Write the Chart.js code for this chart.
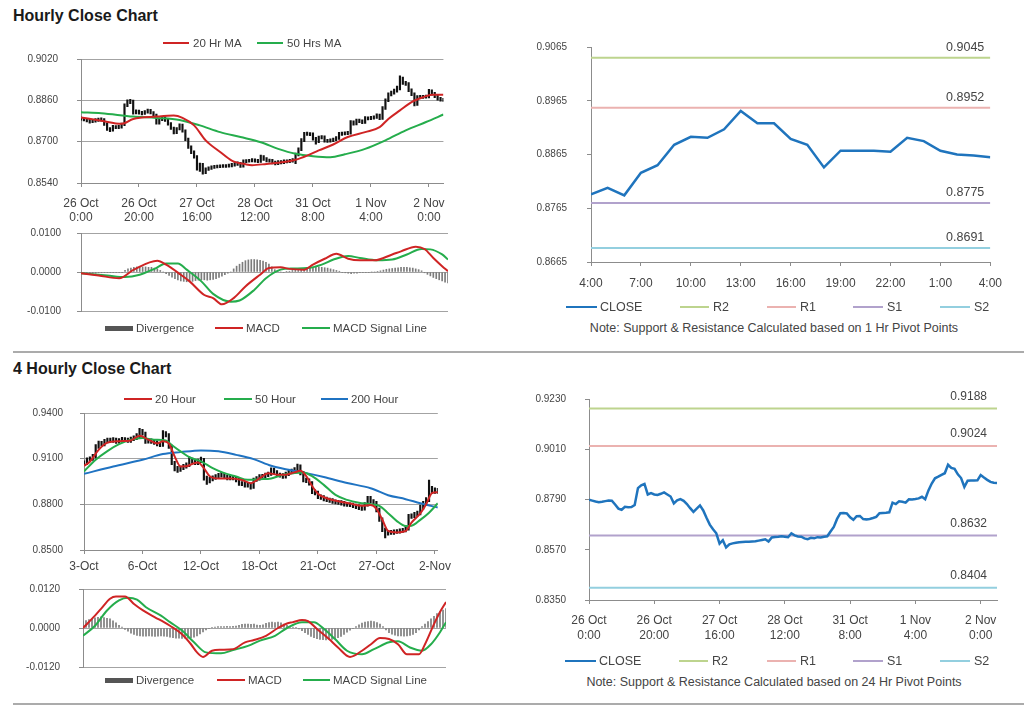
<!DOCTYPE html>
<html>
<head>
<meta charset="utf-8">
<script src="https://cdn.jsdelivr.net/npm/chart.js@4.4.1/dist/chart.umd.min.js"></script>
<style>
html, body { margin: 0; padding: 0; background: #fff; }
body { width: 1024px; height: 706px; position: relative; overflow: hidden; font-family: "Liberation Sans", Arial, sans-serif; color: #444; }
canvas { position: absolute; }
.title { position: absolute; left: 13px; font-weight: bold; font-size: 16px; line-height: 16px; color: #1a1a1a; white-space: nowrap; }
.sep { position: absolute; left: 13px; right: 0; height: 2px; background: #ababab; }
.lg { position: absolute; white-space: nowrap; line-height: 16px; height: 16px; }
.sw { position: absolute; }
.note { position: absolute; white-space: nowrap; font-size: 12.5px; line-height: 16px; transform: translateX(-50%); }
</style>
</head>
<body>
<div class="title" style="top:8px">Hourly Close Chart</div>
<div class="title" style="top:361px">4 Hourly Close Chart</div>
<div class="sep" style="top:351px"></div>
<div class="sep" style="top:703px"></div>
<div class="note" style="left:774px;top:320px">Note: Support &amp; Resistance Calculated based on 1 Hr Pivot Points</div>
<div class="note" style="left:774px;top:674px">Note: Support &amp; Resistance Calculated based on 24 Hr Pivot Points</div>
<canvas id="cA"></canvas>
<canvas id="cB"></canvas>
<canvas id="cC"></canvas>
<canvas id="cD"></canvas>
<canvas id="cE"></canvas>
<canvas id="cF"></canvas>
<script>
// ---- hourly data (26 Oct 0:00 .. 2 Nov 5:00), shared by top-left and bottom-right
const closeH = [
  0.8789,0.8785,0.8781,0.8778,0.8780,0.8783,0.8786,0.8785,0.8768,0.8750,
  0.8745,0.8758,0.8756,0.8757,0.8766,0.8840,0.8852,0.8858,0.8812,0.8818,
  0.8812,0.8810,0.8815,0.8821,0.8812,0.8803,0.8773,0.8786,0.8792,0.8784,
  0.8770,0.8752,0.8736,0.8750,0.8764,0.8742,0.8710,0.8680,0.8660,0.8642,
  0.8597,0.8612,0.8580,0.8594,0.8598,0.8601,0.8603,0.8604,0.8605,0.8605,
  0.8606,0.8607,0.8610,0.8613,0.8616,0.8606,0.8624,0.8626,0.8627,0.8629,
  0.8627,0.8625,0.8642,0.8633,0.8628,0.8627,0.8620,0.8616,0.8622,0.8620,
  0.8625,0.8624,0.8627,0.8629,0.8650,0.8670,0.8705,0.8730,0.8731,0.8729,
  0.8712,0.8701,0.8717,0.8718,0.8704,0.8703,0.8705,0.8709,0.8714,0.8730,
  0.8731,0.8732,0.8734,0.8776,0.8770,0.8782,0.8780,0.8776,0.8791,0.8790,
  0.8792,0.8795,0.8802,0.8791,0.8830,0.8860,0.8883,0.8890,0.8898,0.8905,
  0.8942,0.8928,0.8924,0.8900,0.8884,0.8845,0.8872,0.8873,0.8873,0.8874,
  0.8897,0.8886,0.8876,0.8867,0.8863,0.8862
];
const loH = [
  0.8783,0.8780,0.8776,0.8772,0.8774,0.8775,0.8778,0.8779,0.8763,0.8744,
  0.8739,0.8741,0.8750,0.8750,0.8752,0.8762,0.8835,0.8847,0.8806,0.8807,
  0.8806,0.8804,0.8805,0.8810,0.8807,0.8797,0.8768,0.8768,0.8781,0.8778,
  0.8764,0.8747,0.8730,0.8731,0.8745,0.8737,0.8704,0.8674,0.8654,0.8636,
  0.8590,0.8585,0.8574,0.8576,0.8589,0.8593,0.8596,0.8598,0.8599,0.8600,
  0.8600,0.8601,0.8602,0.8605,0.8608,0.8600,0.8601,0.8619,0.8621,0.8622,
  0.8621,0.8619,0.8620,0.8627,0.8622,0.8621,0.8614,0.8610,0.8611,0.8614,
  0.8615,0.8618,0.8619,0.8621,0.8615,0.8645,0.8665,0.8700,0.8724,0.8723,
  0.8706,0.8690,0.8696,0.8711,0.8698,0.8697,0.8698,0.8700,0.8704,0.8709,
  0.8724,0.8726,0.8727,0.8729,0.8764,0.8765,0.8774,0.8770,0.8771,0.8784,
  0.8785,0.8787,0.8790,0.8785,0.8786,0.8825,0.8855,0.8877,0.8884,0.8892,
  0.8900,0.8922,0.8918,0.8894,0.8878,0.8838,0.8840,0.8866,0.8867,0.8868,
  0.8869,0.8880,0.8870,0.8861,0.8857,0.8856
];
const hiH = [
  0.8795,0.8794,0.8790,0.8786,0.8785,0.8789,0.8791,0.8792,0.8789,0.8773,
  0.8755,0.8763,0.8762,0.8763,0.8772,0.8846,0.8862,0.8864,0.8861,0.8823,
  0.8822,0.8817,0.8820,0.8826,0.8825,0.8816,0.8807,0.8791,0.8797,0.8796,
  0.8788,0.8774,0.8756,0.8755,0.8769,0.8768,0.8746,0.8714,0.8684,0.8665,
  0.8646,0.8617,0.8616,0.8599,0.8603,0.8606,0.8608,0.8609,0.8610,0.8611,
  0.8611,0.8613,0.8616,0.8619,0.8622,0.8620,0.8630,0.8631,0.8632,0.8635,
  0.8634,0.8632,0.8648,0.8646,0.8638,0.8633,0.8632,0.8625,0.8627,0.8627,
  0.8630,0.8630,0.8632,0.8635,0.8656,0.8676,0.8712,0.8736,0.8737,0.8735,
  0.8734,0.8717,0.8722,0.8724,0.8723,0.8709,0.8711,0.8714,0.8720,0.8736,
  0.8737,0.8738,0.8740,0.8782,0.8781,0.8787,0.8787,0.8785,0.8797,0.8796,
  0.8798,0.8800,0.8808,0.8807,0.8836,0.8866,0.8889,0.8896,0.8904,0.8915,
  0.8955,0.8950,0.8934,0.8929,0.8905,0.8889,0.8878,0.8879,0.8879,0.8880,
  0.8903,0.8901,0.8891,0.8881,0.8872,0.8868
];
// moving averages, read as [bar index, value]
const ma20H = [[0,0.8794],[7,0.8781],[14,0.8769],[18,0.8788],[26,0.8797],[32,0.8801],[35,0.8792],
  [39,0.8763],[43,0.8705],[48,0.8660],[52,0.8627],[57,0.8612],[59,0.8609],[64,0.8614],[70,0.8621],
  [74,0.8630],[78,0.8646],[82,0.8666],[87,0.8689],[92,0.8718],[98,0.8737],[103,0.8756],[106,0.8788],
  [110,0.8821],[114,0.8853],[118,0.8872],[121,0.8882],[125,0.8882]];
const ma50H = [[0,0.8814],[7,0.8810],[18,0.8797],[26,0.8792],[34,0.8784],[41,0.8763],[48,0.8737],
  [55,0.8718],[62,0.8698],[68,0.8672],[74,0.8653],[80,0.8644],[86,0.8640],[91,0.8651],[98,0.8672],
  [105,0.8705],[112,0.8744],[119,0.8776],[125,0.8805]];
const macdH = [[0,-0.0003],[6,-0.0009],[13,-0.0016],[18,0.0006],[26,0.0029],[29,0.0019],[34,-0.0007],
  [37,-0.0024],[42,-0.0059],[45,-0.0067],[48,-0.0083],[52,-0.0067],[56,-0.0037],[61,-0.0007],[64,0.0010],
  [68,0.0012],[71,0.0008],[76,0.0006],[79,0.0019],[83,0.0034],[87,0.0047],[91,0.0034],[95,0.0030],
  [100,0.0030],[106,0.0045],[109,0.0053],[114,0.0065],[117,0.0059],[120,0.0036],[123,0.0015],[125,0.0002]];
const signalH = [[0,-0.0003],[9,-0.0009],[15,-0.0013],[20,-0.0007],[25,0.0008],[29,0.0022],[33,0.0022],
  [36,0.0006],[41,-0.0024],[45,-0.0056],[51,-0.0076],[54,-0.0073],[59,-0.0046],[63,-0.0016],[68,0.0006],
  [72,0.0009],[77,0.0010],[82,0.0019],[86,0.0032],[91,0.0041],[95,0.0036],[101,0.0030],[106,0.0032],
  [111,0.0045],[116,0.0059],[119,0.0058],[123,0.0045],[125,0.0032]];
const divH = [
  -0.0002,-0.0002,-0.0002,-0.0003,-0.0003,-0.0003,-0.0002,-0.0002,-0.0001,-0.0001,-0.0001,-0.0001,-0.0001,-0.0002,-0.0001,
  0.0004,0.0008,0.0010,0.0012,0.0013,0.0014,0.0013,0.0013,0.0012,0.0012,0.0010,0.0008,0.0004,0.0000,
  -0.0004,-0.0009,-0.0013,-0.0017,-0.0020,-0.0023,-0.0024,-0.0025,-0.0024,-0.0024,-0.0022,-0.0021,-0.0020,
  -0.0020,-0.0021,-0.0020,-0.0019,-0.0017,-0.0014,-0.0011,-0.0007,-0.0003,0.0000,
  0.0008,0.0015,0.0020,0.0025,0.0029,0.0031,0.0032,0.0032,0.0031,0.0030,0.0028,0.0025,0.0020,0.0013,0.0006,
  0.0002,0.0000,-0.0001,0.0001,0.0002,
  0.0004,0.0006,0.0007,0.0008,0.0009,0.0010,0.0011,0.0012,0.0012,0.0013,0.0012,0.0011,0.0010,0.0008,0.0006,0.0004,0.0002,
  -0.0001,-0.0002,-0.0003,-0.0004,-0.0003,-0.0003,-0.0002,-0.0002,-0.0001,-0.0001,0.0000,0.0000,0.0001,
  0.0003,0.0005,0.0007,0.0008,0.0009,0.0010,0.0011,0.0012,0.0012,0.0012,0.0011,0.0010,0.0008,0.0006,0.0003,
  -0.0002,-0.0006,-0.0010,-0.0014,-0.0017,-0.0020,-0.0023,-0.0026,-0.0028
];
const xTicksH = [0, 20, 40, 60, 80, 100, 120];
const xLabelsH = [['26 Oct','0:00'],['26 Oct','20:00'],['27 Oct','16:00'],['28 Oct','12:00'],['31 Oct','8:00'],['1 Nov','4:00'],['2 Nov','0:00']];

// ---- 4 hourly data (3 Oct .. 2 Nov)
const lo4 = [
  0.9055,0.9060,0.9082,0.9088,0.9104,0.9168,0.9183,0.9184,0.9203,0.9206,
  0.9207,0.9200,0.9201,0.9208,0.9212,0.9206,0.9207,0.9218,0.9224,0.9238,
  0.9255,0.9200,0.9202,0.9200,0.9193,0.9183,0.9178,0.9180,0.9243,0.9168,
  0.9060,0.9020,0.9010,0.9016,0.9028,0.9038,0.9048,0.9068,0.9060,0.9060,
  0.9073,0.8958,0.8930,0.8940,0.8953,0.8963,0.8972,0.8978,0.8968,0.8960,
  0.8961,0.8960,0.8948,0.8925,0.8922,0.8912,0.8913,0.8900,0.8905,0.8950,
  0.8958,0.8972,0.8973,0.8982,0.8990,0.8998,0.8982,0.8978,0.8970,0.8972,
  0.8988,0.9005,0.9008,0.9018,0.8993,0.8948,0.8942,0.8926,0.8870,0.8862,
  0.8838,0.8832,0.8822,0.8817,0.8813,0.8806,0.8803,0.8800,0.8795,0.8788,
  0.8786,0.8784,0.8778,0.8772,0.8765,0.8760,0.8762,0.8788,0.8808,0.8795,
  0.8750,0.8688,0.8620,0.8580,0.8598,0.8602,0.8603,0.8609,0.8610,0.8615,
  0.8618,0.8631,0.8708,0.8713,0.8722,0.8730,0.8768,0.8795,0.8818,0.8872,
  0.8872,0.8872
];
const hi4 = [
  0.9085,0.9105,0.9112,0.9128,0.9192,0.9215,0.9214,0.9227,0.9236,0.9235,
  0.9238,0.9236,0.9232,0.9240,0.9239,0.9236,0.9242,0.9250,0.9265,0.9300,
  0.9292,0.9275,0.9232,0.9230,0.9225,0.9217,0.9206,0.9285,0.9278,0.9265,
  0.9190,0.9082,0.9050,0.9052,0.9062,0.9072,0.9112,0.9104,0.9092,0.9097,
  0.9110,0.9102,0.8985,0.8977,0.8987,0.8996,0.9003,0.9010,0.9005,0.8992,
  0.8990,0.8990,0.8984,0.8972,0.8950,0.8946,0.8942,0.8940,0.8972,0.8982,
  0.8995,0.8997,0.9006,0.9012,0.9040,0.9038,0.9022,0.9005,0.9002,0.9012,
  0.9028,0.9032,0.9042,0.9065,0.9060,0.9017,0.8973,0.8967,0.8950,0.8896,
  0.8887,0.8863,0.8857,0.8847,0.8841,0.8837,0.8830,0.8827,0.8824,0.8819,
  0.8812,0.8810,0.8808,0.8802,0.8797,0.8790,0.8812,0.8853,0.8852,0.8832,
  0.8819,0.8775,0.8712,0.8644,0.8630,0.8630,0.8632,0.8634,0.8639,0.8642,
  0.8655,0.8735,0.8738,0.8748,0.8755,0.8795,0.8820,0.8845,0.8960,0.8918,
  0.8908,0.8905
];
const ma20_4 = [[0,0.9053],[2,0.9080],[5,0.9158],[8,0.9205],[12,0.9215],[16,0.9220],[19,0.9251],[22,0.9225],
  [25,0.9200],[27,0.9215],[29,0.9200],[31,0.9115],[33,0.9049],[35,0.9050],[37,0.9065],[39,0.9075],[41,0.9038],
  [43,0.8985],[46,0.8970],[50,0.8970],[54,0.8960],[57,0.8939],[60,0.8970],[63,0.9005],[66,0.8995],[69,0.8995],
  [72,0.9010],[74,0.9020],[76,0.8985],[78,0.8920],[80,0.8870],[83,0.8840],[87,0.8820],[91,0.8805],[95,0.8790],
  [98,0.8795],[100,0.8770],[102,0.8700],[104,0.8625],[107,0.8615],[110,0.8625],[112,0.8680],[115,0.8740],
  [117,0.8800],[119,0.8873],[121,0.8880]];
const ma50_4 = [[0,0.9016],[4,0.9093],[8,0.9150],[12,0.9195],[16,0.9224],[20,0.9235],[24,0.9225],[28,0.9220],
  [30,0.9190],[33,0.9148],[36,0.9110],[40,0.9082],[44,0.9038],[48,0.9005],[52,0.8983],[56,0.8961],[60,0.8965],
  [64,0.8970],[68,0.8994],[72,0.9005],[75,0.9009],[78,0.8985],[82,0.8928],[86,0.8862],[90,0.8829],[94,0.8810],
  [98,0.8801],[101,0.8790],[104,0.8742],[107,0.8690],[110,0.8658],[112,0.8660],[115,0.8698],[118,0.8745],[121,0.8807]];
const ma200_4 = [[0,0.9000],[10,0.9049],[20,0.9093],[27,0.9130],[33,0.9143],[40,0.9154],[46,0.9148],[52,0.9125],
  [58,0.9097],[64,0.9053],[70,0.9027],[76,0.9005],[82,0.8979],[90,0.8940],[98,0.8906],[104,0.8860],[110,0.8834],
  [115,0.8807],[121,0.8779]];
const macd4 = [[0,0.0000],[4,0.0038],[6,0.0059],[9,0.0090],[11,0.0097],[14,0.0097],[17,0.0074],[20,0.0054],
  [24,0.0033],[27,0.0018],[29,0.0007],[33,-0.0019],[36,-0.0050],[38,-0.0075],[40,-0.0089],[43,-0.0070],
  [46,-0.0067],[50,-0.0065],[54,-0.0044],[57,-0.0037],[61,-0.0024],[65,0.0000],[68,0.0014],[70,0.0018],
  [73,0.0025],[75,0.0021],[78,-0.0003],[82,-0.0034],[85,-0.0060],[89,-0.0089],[93,-0.0070],[96,-0.0050],
  [99,-0.0031],[102,-0.0034],[105,-0.0050],[108,-0.0081],[112,-0.0081],[114,-0.0050],[117,0.0012],
  [119,0.0049],[121,0.0080]];
const signal4 = [[0,-0.0024],[4,0.0007],[8,0.0054],[12,0.0085],[15,0.0093],[18,0.0087],[21,0.0064],[26,0.0038],
  [29,0.0018],[33,-0.0008],[37,-0.0044],[41,-0.0075],[46,-0.0078],[50,-0.0068],[55,-0.0055],[59,-0.0039],
  [64,-0.0024],[68,0.0000],[73,0.0018],[77,0.0018],[80,0.0000],[84,-0.0034],[88,-0.0070],[93,-0.0081],
  [97,-0.0065],[102,-0.0044],[105,-0.0041],[109,-0.0060],[113,-0.0070],[116,-0.0050],[119,-0.0013],[121,0.0018]];
const div4 = [
  0.0020,0.0023,0.0026,0.0028,0.0031,0.0033,0.0034,0.0032,0.0030,0.0028,
  0.0022,0.0016,0.0008,0.0003,-0.0004,-0.0010,-0.0016,-0.0020,-0.0023,-0.0024,
  -0.0025,-0.0025,-0.0024,-0.0025,-0.0026,-0.0025,-0.0024,-0.0025,-0.0026,-0.0028,
  -0.0030,-0.0031,-0.0031,-0.0032,-0.0031,-0.0031,-0.0030,-0.0028,-0.0024,-0.0018,
  -0.0012,-0.0006,-0.0002,0.0001,0.0003,0.0004,0.0004,0.0004,0.0005,0.0004,
  0.0005,0.0006,0.0008,0.0011,0.0012,0.0012,0.0011,0.0012,0.0009,0.0008,
  0.0010,0.0014,0.0017,0.0018,0.0017,0.0018,0.0016,0.0012,0.0008,0.0005,
  0.0003,0.0001,-0.0003,-0.0008,-0.0014,-0.0020,-0.0026,-0.0030,-0.0033,-0.0035,
  -0.0036,-0.0037,-0.0036,-0.0035,-0.0033,-0.0030,-0.0026,-0.0020,-0.0013,-0.0007,
  -0.0002,0.0004,0.0010,0.0015,0.0018,0.0020,0.0021,0.0020,0.0017,0.0012,
  0.0004,-0.0006,-0.0014,-0.0019,-0.0022,-0.0024,-0.0024,-0.0025,-0.0024,-0.0023,
  -0.0020,-0.0014,-0.0006,0.0004,0.0012,0.0020,0.0028,0.0036,0.0044,0.0050,
  0.0055,0.0060
];
const xTicks4 = [0, 20, 40, 60, 80, 100, 120];
const xLabels4 = ['3-Oct','6-Oct','12-Oct','18-Oct','21-Oct','27-Oct','2-Nov'];

// ---- top-right: last 24 hours of closes
const hourLabels = ['4:00','5:00','6:00','7:00','8:00','9:00','10:00','11:00','12:00','13:00','14:00','15:00',
  '16:00','17:00','18:00','19:00','20:00','21:00','22:00','23:00','0:00','1:00','2:00','3:00','4:00'];
const close1 = [0.8791,0.8803,0.8789,0.8831,0.8845,0.8883,0.8898,0.8896,0.8912,0.8946,0.8923,0.8923,0.8894,
  0.8883,0.8841,0.8872,0.8872,0.8872,0.8870,0.8896,0.8890,0.8872,0.8865,0.8863,0.8860];
const xTicksC = [0, 3, 6, 9, 12, 15, 18, 21, 24];
const pivotNames = ['R2', 'R1', 'S1', 'S2'];
const pivots1 = [0.9045, 0.8952, 0.8775, 0.8691];
const pivots24 = [0.9188, 0.9024, 0.8632, 0.8404];

// y ticks
const yTicksA = [0.8540, 0.8700, 0.8860, 0.9020];
const yTicksB = [-0.0100, 0.0000, 0.0100];
const yTicksC = [0.8665, 0.8765, 0.8865, 0.8965, 0.9065];
const yTicksD = [0.8500, 0.8800, 0.9100, 0.9400];
const yTicksE = [-0.0120, 0.0000, 0.0120];
const yTicksF = [0.8350, 0.8570, 0.8790, 0.9010, 0.9230];

// ---- styles
const FONT = '"Liberation Sans", Arial, sans-serif';
const TXT = '#444';
const GRID = '#a3a3a3';
const AXIS = '#8c8c8c';
const RED = '#cf2424', GREEN = '#25ad4c', BLUE = '#1f73c2', CLOSEC = '#1f74bd', DIVC = '#7c7c7c';
const PIVC = ['#bdd48e', '#ebb2b0', '#b1a2cc', '#93cfdf'];

Chart.defaults.font.family = FONT;
Chart.defaults.color = TXT;

const pts = pairs => pairs.map(([x, y]) => ({x, y}));
const seq = arr => arr.map((y, x) => ({x, y}));
const range = (lo, hi) => lo.map((v, i) => ({x: i, y: [v, hi[i]]}));

function line(data, color, width, smooth) {
  return {type: 'line', data, borderColor: color, borderWidth: width, pointRadius: 0, fill: false,
    tension: 0, cubicInterpolationMode: smooth ? 'monotone' : 'default'};
}
function bars(data, color, w) {
  return {type: 'bar', data, backgroundColor: color, borderWidth: 0, barThickness: w || 1, grouped: false};
}

function yAxis(ticks, o) {
  return {
    type: 'linear', min: ticks[0], max: ticks[ticks.length - 1], beginAtZero: false,
    afterBuildTicks: s => { s.ticks = ticks.map(v => ({value: v})); },
    afterFit: s => { s.width = o.w; },
    ticks: {padding: o.pad, color: TXT, font: {size: o.size}, callback: v => v.toFixed(4)},
    grid: {color: GRID, tickColor: AXIS, tickLength: 4, drawOnChartArea: o.grid},
    border: {color: AXIS}
  };
}
function xAxis(max, tickPos, labels, o) {
  return {
    type: 'linear', min: 0, max, offset: false,
    afterBuildTicks: s => { s.ticks = tickPos.map(v => ({value: v})); },
    afterFit: s => { s.height = o.h; },
    ticks: {padding: o.pad, color: TXT, font: {size: 12, lineHeight: o.lh}, maxRotation: 0, autoSkip: false,
      callback: (v, i) => labels[i]},
    grid: {color: AXIS, tickLength: 4, drawOnChartArea: false, offset: false},
    border: {color: AXIS}
  };
}
const hiddenX = max => ({type: 'linear', min: 0, max, offset: false, display: false, grid: {offset: false}});

// the y tick padding also pads the scale vertically, so the canvas margin has to cover it
function boxOf(p, yW, xH, pT, pR, pB) {
  const x = p.l - yW, y = p.t - pT;
  return {x, y, w: p.r + pR - x, h: p.b + xH + pB - y, pad: {top: pT, right: pR, bottom: pB, left: 0}};
}

function make(id, box, datasets, scales, extraPlugins, pluginOpts) {
  const c = document.getElementById(id);
  c.width = box.w; c.height = box.h;
  c.style.left = box.x + 'px'; c.style.top = box.y + 'px';
  return new Chart(c, {
    type: 'line',
    data: {datasets},
    options: {
      responsive: false, animation: false, events: [],
      layout: {padding: box.pad},
      scales,
      plugins: Object.assign({legend: {display: false}, tooltip: {enabled: false}}, pluginOpts || {})
    },
    plugins: extraPlugins || []
  });
}

// value labels above the pivot lines
const pivotLabels = {
  id: 'pivotLabels',
  afterDatasetsDraw(chart, args, o) {
    const {ctx, chartArea} = chart;
    const y = chart.scales.y;
    ctx.save();
    ctx.font = o.size + 'px ' + FONT;
    ctx.fillStyle = TXT;
    ctx.textAlign = 'right';
    ctx.textBaseline = 'middle';
    o.values.forEach(v => ctx.fillText(v.toFixed(4), chartArea.right - o.dx, y.getPixelForValue(v) - o.dy));
    ctx.restore();
  }
};

function pivotSets(values, lastX) {
  return values.map((v, k) => line([{x: 0, y: v}, {x: lastX, y: v}], PIVC[k], 2, false));
}

// ---- hourly price chart
make('cA', boxOf({l: 81, t: 59, r: 445, b: 183}, 76, 44, 28, 10, 0), [
  line(pts(ma20H), RED, 2, true),
  line(pts(ma50H), GREEN, 2, true),
  bars(range(loH, hiH), '#111', 1.5)
], {
  x: xAxis(closeH.length - 1, xTicksH, xLabelsH, {pad: 10, h: 44, lh: 1.15}),
  y: yAxis(yTicksA, {w: 76, pad: 19, size: 10, grid: true})
});

// ---- hourly MACD
make('cB', boxOf({l: 81, t: 233, r: 448, b: 311}, 76, 0, 25, 6, 25), [
  line(pts(macdH), RED, 2, true),
  line(pts(signalH), GREEN, 2, true),
  bars(seq(divH), DIVC)
], {
  x: hiddenX(divH.length - 1),
  y: yAxis(yTicksB, {w: 76, pad: 16, size: 10, grid: true})
});

// ---- 1 hr pivots
make('cC', boxOf({l: 591, t: 47, r: 997, b: 262}, 80, 34, 29, 16, 0), [
  line(seq(close1), CLOSEC, 2.5, false),
  ...pivotSets(pivots1, close1.length - 1)
], {
  x: xAxis(close1.length - 1, xTicksC, xTicksC.map(i => hourLabels[i]), {pad: 11, h: 34, lh: 1.15}),
  y: yAxis(yTicksC, {w: 80, pad: 20, size: 10, grid: false})
}, [pivotLabels], {pivotLabels: {values: pivots1, dx: 6, dy: 10, size: 12.5}});

// ---- 4 hourly price chart
make('cD', boxOf({l: 84, t: 413, r: 445, b: 550}, 76, 28, 26, 12, 0), [
  line(pts(ma20_4), RED, 2, true),
  line(pts(ma50_4), GREEN, 2, true),
  line(pts(ma200_4), BLUE, 2, true),
  bars(range(lo4, hi4), '#111', 1.5)
], {
  x: xAxis(lo4.length - 1, xTicks4, xLabels4, {pad: 6, h: 28, lh: 1.15}),
  y: yAxis(yTicksD, {w: 76, pad: 17, size: 10, grid: true})
});

// ---- 4 hourly MACD
make('cE', boxOf({l: 83, t: 589, r: 446, b: 667}, 76, 0, 28, 6, 28), [
  line(pts(macd4), RED, 2, true),
  line(pts(signal4), GREEN, 2, true),
  bars(seq(div4), DIVC)
], {
  x: hiddenX(div4.length - 1),
  y: yAxis(yTicksE, {w: 76, pad: 19, size: 10, grid: true})
});

// ---- 24 hr pivots
make('cF', boxOf({l: 589, t: 399, r: 997, b: 600}, 80, 46, 28, 12, 0), [
  line(seq(closeH), CLOSEC, 2.5, false),
  ...pivotSets(pivots24, closeH.length - 1)
], {
  x: xAxis(closeH.length - 1, xTicksH, xLabelsH, {pad: 9, h: 46, lh: 1.25}),
  y: yAxis(yTicksF, {w: 80, pad: 19, size: 10, grid: false})
}, [pivotLabels], {pivotLabels: {values: pivots24, dx: 10, dy: 12, size: 12}});

// ---- legends (swatch start, swatch end, text start)
function legend(y, size, items) {
  for (const [x0, x1, tx, color, text, box] of items) {
    const h = box ? 5 : 2;
    const s = document.createElement('div');
    s.className = 'sw';
    s.style.cssText = `left:${x0}px;top:${y - h / 2}px;width:${x1 - x0}px;height:${h}px;background:${color}`;
    document.body.appendChild(s);
    const t = document.createElement('div');
    t.className = 'lg';
    t.style.cssText = `left:${tx}px;top:${y - 8}px;font-size:${size}px`;
    t.textContent = text;
    document.body.appendChild(t);
  }
}
legend(43, 11.5, [[163, 189, 193, RED, '20 Hr MA'], [257, 283, 287, GREEN, '50 Hrs MA']]);
legend(328, 11.5, [[105, 133, 136, '#555', 'Divergence', true], [215, 243, 246, RED, 'MACD'], [302, 330, 333, GREEN, 'MACD Signal Line']]);
legend(307, 12.5, [[566, 597, 600, CLOSEC, 'CLOSE'], [680, 709, 713, PIVC[0], pivotNames[0]], [767, 796, 800, PIVC[1], pivotNames[1]],
  [853, 883, 887, PIVC[2], pivotNames[2]], [940, 970, 974, PIVC[3], pivotNames[3]]]);
legend(399, 11.5, [[124, 152, 155, RED, '20 Hour'], [224, 252, 255, GREEN, '50 Hour'], [321, 348, 351, BLUE, '200 Hour']]);
legend(680, 11.5, [[105, 133, 136, '#555', 'Divergence', true], [217, 245, 248, RED, 'MACD'], [303, 330, 333, GREEN, 'MACD Signal Line']]);
legend(661, 12.5, [[565, 596, 599, CLOSEC, 'CLOSE'], [679, 708, 712, PIVC[0], pivotNames[0]], [767, 796, 800, PIVC[1], pivotNames[1]],
  [853, 883, 887, PIVC[2], pivotNames[2]], [940, 970, 974, PIVC[3], pivotNames[3]]]);
</script>
</body>
</html>
